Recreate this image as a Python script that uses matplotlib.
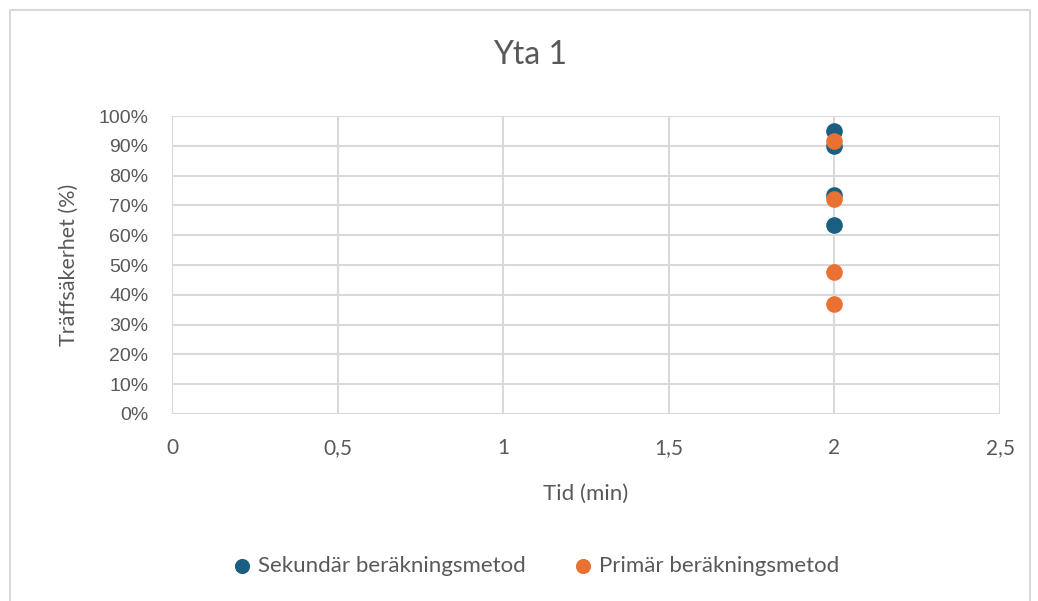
import matplotlib.pyplot as plt
from matplotlib.patches import Rectangle
from matplotlib.ticker import PercentFormatter, FuncFormatter

# Yta 1 - träffsäkerhet per metod
tid_sek = [2, 2, 2, 2]
traff_sek = [95.0, 90.0, 73.5, 63.5]
tid_prim = [2, 2, 2, 2]
traff_prim = [91.5, 72.0, 47.8, 36.8]

x_ticks = [0, 0.5, 1, 1.5, 2, 2.5]
y_ticks = list(range(0, 101, 10))

BLUE = '#1a5e82'
ORANGE = '#e97132'
GRID = '#d9d9d9'
TEXT = '#595959'
LATO = ['Lato', 'DejaVu Sans']


def main():
    plt.rcParams['font.family'] = ['Liberation Sans', 'DejaVu Sans']
    fig = plt.figure(figsize=(10.38, 6.01), dpi=100)
    # chart frame, open at the bottom
    fig.patches.append(Rectangle((10 / 1038, -10 / 601), 1020 / 1038, 601 / 601,
                                 transform=fig.transFigure, fill=False,
                                 edgecolor='#d9d9d9', lw=1.5))

    ax = fig.add_axes([172 / 1038, 187 / 601, 828 / 1038, 298 / 601])
    ax.scatter(tid_sek, traff_sek, s=120, color=BLUE, zorder=3,
               label='Sekundär beräkningsmetod', clip_on=False)
    ax.scatter(tid_prim, traff_prim, s=120, color=ORANGE, zorder=4,
               label='Primär beräkningsmetod', clip_on=False)

    ax.set_xlim(0, 2.5)
    ax.set_ylim(0, 100)
    ax.set_xticks(x_ticks)
    ax.set_yticks(y_ticks)
    ax.xaxis.set_major_formatter(FuncFormatter(lambda v, p: f'{v:g}'.replace('.', ',')))
    ax.yaxis.set_major_formatter(PercentFormatter(decimals=0))
    ax.grid(True, color=GRID, lw=1.5)
    ax.set_axisbelow(True)
    for s in ax.spines.values():
        s.set_visible(False)
    ax.tick_params(length=0, colors=TEXT)
    ax.tick_params(axis='x', pad=17, labelsize=15)
    for lbl in ax.get_xticklabels():
        lbl.set_family(LATO)
    ax.tick_params(axis='y', pad=17, labelsize=14)

    ax.set_xlabel('Tid (min)', fontsize=16, color=TEXT, family=LATO, labelpad=19)
    ax.set_ylabel('Träffsäkerhet (%)', fontsize=15.5, color=TEXT, family=LATO, labelpad=14)
    fig.text(0.511, 0.908, 'Yta 1', ha='center', va='center', fontsize=23, color=TEXT,
             family=LATO)

    leg = fig.legend(loc='center', bbox_to_anchor=(0.51, 0.058), ncol=2, frameon=False,
                     prop={'family': LATO, 'size': 16},
                     handletextpad=-0.3, columnspacing=1.6, scatterpoints=1, markerscale=0.9)
    for t in leg.get_texts():
        t.set_color(TEXT)

    fig.savefig('out.png', dpi=100)


if __name__ == '__main__':
    main()
